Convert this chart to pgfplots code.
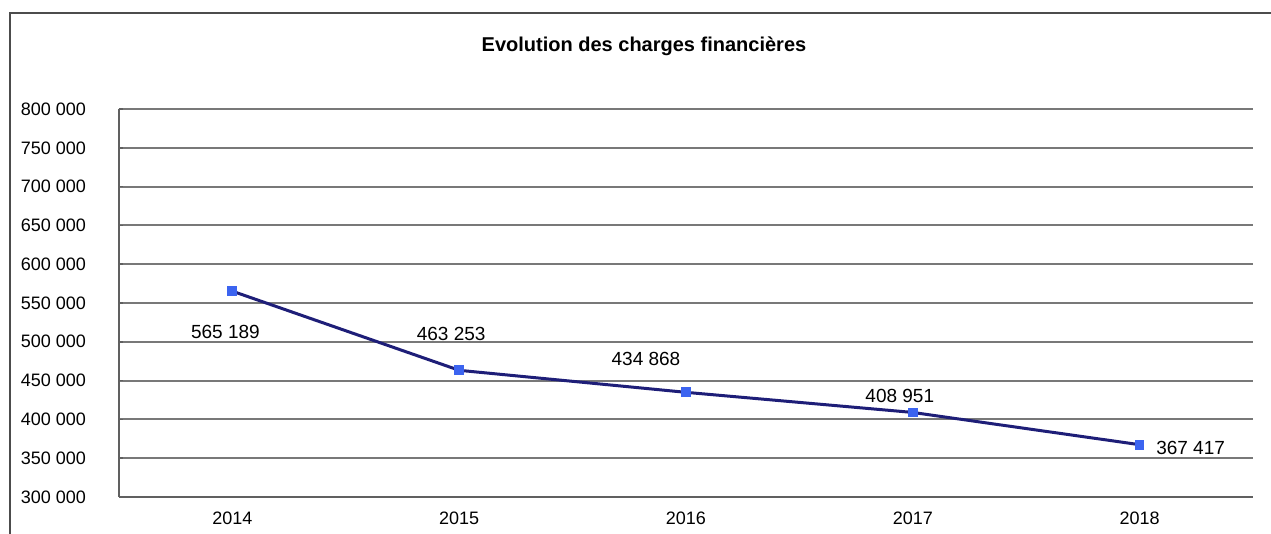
\documentclass[border=0pt]{standalone}
\usepackage{pgfplots}
\pgfplotsset{compat=1.18}
\usepackage{pgfplotstable}
\usepackage{fontspec}
\setmainfont{Liberation Sans}

\definecolor{lineblue}{RGB}{30,30,120}
\definecolor{markblue}{RGB}{60,100,240}
\definecolor{gridgray}{RGB}{120,120,120}

% x, value, label, label offset (pt)
\pgfplotstableread{
x  y       lab       dx     dy
0  565189  565~189   -3.5   -20.5
1  463253  463~253   -4     18
2  434868  434~868   -20    16.5
3  408951  408~951   -6.5   8
4  367417  367~417   25.5   -1.5
}\charges

\begin{document}
\begin{tikzpicture}
\useasboundingbox (0pt,0pt) rectangle (635.5pt,267pt);
\clip (0pt,0pt) rectangle (635.5pt,267pt);
% outer frame
\draw[line width=1.2pt,gray!60!black] (5pt,-5pt) -- (5pt,260.5pt) -- (640pt,260.5pt);
\node[font=\fontsize{10}{12}\selectfont\bfseries] at (322pt,244pt) {Evolution des charges financières};

\begin{axis}[
    at={(59.5pt,18.5pt)}, anchor=south west,
    scale only axis,
    width=567pt, height=194pt,
    xmin=-0.5, xmax=4.5,
    ymin=300000, ymax=800000,
    xtick={0,1,2,3,4},
    xticklabels={2014,2015,2016,2017,2018},
    minor xtick={-0.5,0.5,1.5,2.5,3.5},
    ytick={300000,350000,400000,450000,500000,550000,600000,650000,700000,750000,800000},
    yticklabels={300 000,350 000,400 000,450 000,500 000,550 000,600 000,650 000,700 000,750 000,800 000},
    axis x line*=bottom, axis y line*=left,
    axis line style={line width=1pt,gridgray!80!black},
    ymajorgrids=true,
    grid style={line width=1pt,gridgray},
    major tick length=2pt, minor tick length=2pt,
    tick style={gridgray!80!black,line width=0.8pt},
    xtick style={draw=none},
    tick label style={font=\fontsize{9}{10}\selectfont},
    yticklabel style={xshift=-13pt},
    xticklabel style={yshift=-4pt},
    scaled y ticks=false,
]
\addplot[color=lineblue, line width=1.5pt, mark=square*,
    mark options={color=markblue, fill=markblue, line width=0pt}, mark size=2.2pt,
    nodes near coords,
    point meta=explicit symbolic,
    visualization depends on={\thisrow{dx}\as\ldx},
    visualization depends on={\thisrow{dy}\as\ldy},
    every node near coord/.append style={anchor=center, xshift=\ldx pt, yshift=\ldy pt,
        color=black, font=\fontsize{9.5}{11}\selectfont}]
    table[x=x, y=y, meta=lab] {\charges};
\end{axis}
\end{tikzpicture}
\end{document}
